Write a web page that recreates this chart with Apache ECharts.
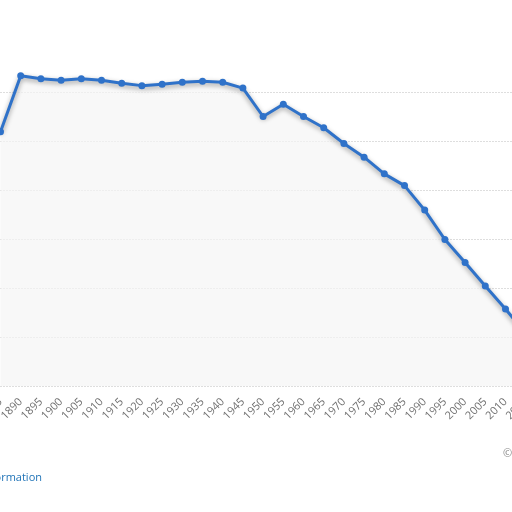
<!DOCTYPE html>
<html>
<head>
<meta charset="utf-8">
<script src="https://cdn.jsdelivr.net/npm/echarts@6/dist/echarts.min.js"></script>
<style>
html,body{margin:0;padding:0;background:#fff;}
#main{width:512px;height:512px;}
</style>
</head>
<body>
<div id="main"></div>
<script>
var years = ['1885','1890','1895','1900','1905','1910','1915','1920','1925','1930','1935','1940','1945','1950','1955','1960','1965','1970','1975','1980','1985','1990','1995','2000','2005','2010','2015'];
var values = [51.9,63.3,62.7,62.4,62.7,62.4,61.8,61.3,61.6,62.0,62.2,62.0,60.8,55.0,57.5,55.0,52.7,49.5,46.7,43.3,40.9,35.9,29.9,25.2,20.4,15.7,10.8];
var yTicks = [0,10,20,30,40,50,60];

var chart = echarts.init(document.getElementById('main'), null, {renderer:'canvas'});
chart.setOption({
  backgroundColor:'#ffffff',
  animation:false,
  grid:{left:0.5, right:-13.7, top:92, bottom:126, containLabel:false, outerBoundsMode:'none'},
  xAxis:{
    type:'category',
    data:years,
    boundaryGap:false,
    axisLine:{show:false},
    axisTick:{show:false},
    axisLabel:{rotate:45, color:'#707070', fontFamily:'Open Sans', fontSize:11, margin:14, interval:0},
    splitLine:{show:false}
  },
  yAxis:{
    type:'value',
    min:yTicks[0], max:yTicks[yTicks.length-1], interval:10,
    axisLine:{show:false}, axisTick:{show:false},
    axisLabel:{show:false},
    splitLine:{show:true, lineStyle:{color:'#bdbdbd', type:[1,2], width:1}}
  },
  series:[{
    type:'line',
    data:values,
    clip:false,
    symbol:'circle',
    symbolSize:7,
    itemStyle:{color:'#2f72c9'},
    lineStyle:{color:'#2f72c9', width:3, shadowColor:'rgba(0,0,0,0.4)', shadowBlur:5, shadowOffsetY:2},
    areaStyle:{color:'#f5f5f5', origin:'start'}
  }],
  graphic:[
    {type:'text', x:42, y:472, style:{text:'Additional Information', fill:'#1f73b7', font:'11px "Open Sans"', textAlign:'right'}},
    {type:'text', x:503, y:448, style:{text:'© Statista 2021', fill:'#888', font:'11px "Open Sans"', textAlign:'left'}}
  ]
});
</script>
</body>
</html>
